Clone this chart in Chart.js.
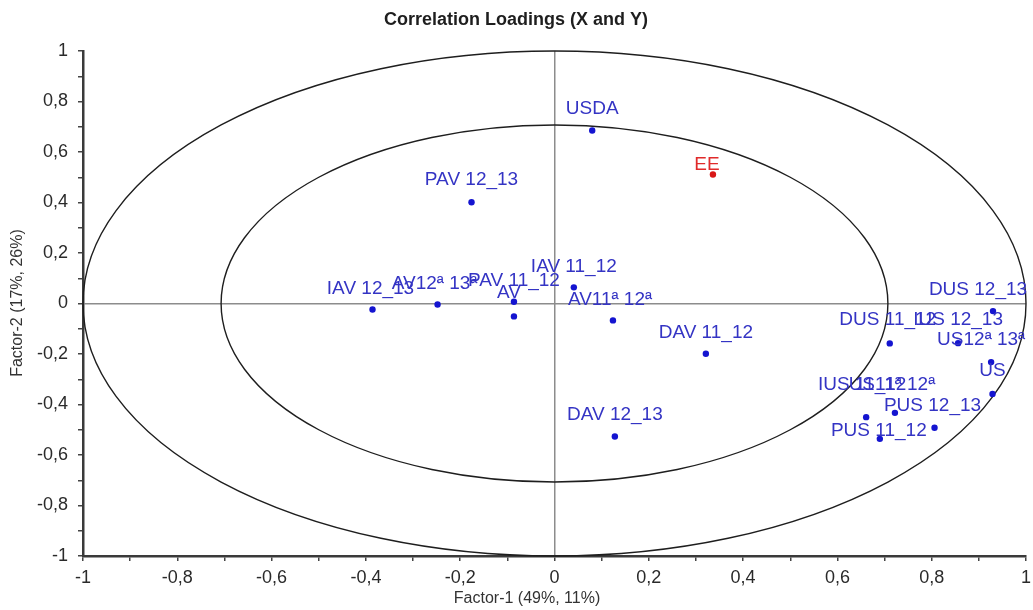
<!DOCTYPE html>
<html>
<head>
<meta charset="utf-8">
<script src="https://cdn.jsdelivr.net/npm/chart.js@4.4.1/dist/chart.umd.min.js"></script>
<style>
  html, body { margin: 0; padding: 0; background: #fff; }
</style>
</head>
<body>
<canvas id="loadings" width="1033" height="610"></canvas>
<script>
// X variables (blue) and Y variable (red), loadings on factor 1 / factor 2
var xNames = ['USDA', 'PAV 12_13', 'IAV 12_13', 'AV12\u00aa 13\u00aa', 'PAV 11_12', 'AV',
  'IAV 11_12', 'AV11\u00aa 12\u00aa', 'DAV 11_12', 'DAV 12_13', 'DUS 12_13', 'IUS 12_13',
  'US12\u00aa 13\u00aa', 'US', 'DUS 11_12', 'IUS 11_12', 'US11\u00aa 12\u00aa', 'PUS 12_13', 'PUS 11_12'];
var xFactor1 = [0.080, -0.176, -0.386, -0.248, -0.086, -0.086,
  0.041, 0.124, 0.321, 0.128, 0.930, 0.856,
  0.926, 0.929, 0.711, 0.661, 0.722, 0.806, 0.690];
var xFactor2 = [0.685, 0.401, -0.024, -0.004, 0.007, -0.051,
  0.064, -0.067, -0.199, -0.527, -0.030, -0.157,
  -0.232, -0.358, -0.158, -0.450, -0.433, -0.492, -0.536];

var yNames = ['EE'];
var yFactor1 = [0.336];
var yFactor2 = [0.511];

// correlation circles: 100% and 50% explained variance
var circleRadii = [1, 0.7071];

var tickValues = [-1, -0.8, -0.6, -0.4, -0.2, 0, 0.2, 0.4, 0.6, 0.8, 1];
var tickLabels = ['-1', '-0,8', '-0,6', '-0,4', '-0,2', '0', '0,2', '0,4', '0,6', '0,8', '1'];

// small nudges [dx, dy] so labels sit as in the original plot
var labelNudge = {
  'EE': [-6, 13], 'IAV 12_13': [-2, 1], 'AV12\u00aa 13\u00aa': [-3, 1], 'PAV 11_12': [0, 1],
  'AV': [-5, -1], 'IAV 11_12': [0, 2], 'AV11\u00aa 12\u00aa': [-3, 2], 'DAV 11_12': [0, 1],
  'DUS 12_13': [-15, 1], 'IUS 12_13': [0, -1], 'US12\u00aa 13\u00aa': [-10, 0], 'US': [0, -1],
  'DUS 11_12': [-2, -1], 'IUS 11_12': [-4, -10], 'US11\u00aa 12\u00aa': [-3, -6],
  'PUS 12_13': [-2, 0], 'PUS 11_12': [-1, 14]
};

var FONT = "'Liberation Sans', Arial, sans-serif";

function toPoints(xs, ys) {
  return xs.map(function(v, i) { return { x: v, y: ys[i] }; });
}

function tickText(v) {
  for (var i = 0; i < tickValues.length; i++) {
    if (Math.abs(tickValues[i] - v) < 1e-6) return tickLabels[i];
  }
  return '';
}

var circles = {
  id: 'circles',
  beforeDatasetsDraw: function(chart) {
    var sx = chart.scales.x, sy = chart.scales.y, ctx = chart.ctx;
    var cx = sx.getPixelForValue(0), cy = sy.getPixelForValue(0);
    ctx.save();
    ctx.strokeStyle = '#1e1e1e';
    ctx.lineWidth = 1.4;
    circleRadii.forEach(function(r) {
      var rx = sx.getPixelForValue(r) - cx;
      var ry = cy - sy.getPixelForValue(r);
      ctx.beginPath();
      ctx.ellipse(cx, cy, rx, ry, 0, 0, Math.PI * 2);
      ctx.stroke();
    });
    ctx.restore();
  }
};

var pointLabels = {
  id: 'pointLabels',
  afterDatasetsDraw: function(chart) {
    var ctx = chart.ctx;
    ctx.save();
    ctx.font = '19px ' + FONT;
    ctx.textAlign = 'center';
    ctx.textBaseline = 'alphabetic';
    chart.data.datasets.forEach(function(ds, di) {
      var meta = chart.getDatasetMeta(di);
      ctx.fillStyle = ds.labelColor;
      meta.data.forEach(function(el, i) {
        var name = ds.names[i];
        var n = labelNudge[name] || [0, 0];
        ctx.fillText(name, el.x + n[0], el.y - 17 + n[1]);
      });
    });
    ctx.restore();
  }
};

var titles = {
  id: 'titles',
  afterDraw: function(chart) {
    var ctx = chart.ctx;
    ctx.save();
    ctx.fillStyle = '#1e1e1e';
    ctx.textAlign = 'center';
    ctx.textBaseline = 'middle';
    ctx.font = 'bold 18px ' + FONT;
    ctx.fillText('Correlation Loadings (X and Y)', 516, 20);
    ctx.fillStyle = '#333';
    ctx.font = '16px ' + FONT;
    ctx.fillText('Factor-1 (49%, 11%)', 527, 599);
    ctx.translate(18, 303);
    ctx.rotate(-Math.PI / 2);
    ctx.fillText('Factor-2 (17%, 26%)', 0, 0);
    ctx.restore();
  }
};

function axis(pos) {
  return {
    type: 'linear',
    position: pos,
    min: -1,
    max: 1,
    afterFit: function(s) {
      if (pos === 'left') {
        s.width = 83;
      } else {
        s.height = 54;
        s.paddingLeft = 0;
        s.paddingRight = 7;
      }
    },
    ticks: {
      stepSize: 0.1,
      autoSkip: false,
      maxRotation: 0,
      minRotation: 0,
      padding: pos === 'left' ? 10 : 6,
      color: '#2a2a2a',
      font: { family: FONT, size: 18 },
      callback: function(v) { return tickText(v); }
    },
    grid: {
      color: function(c) {
        return c.tick && Math.abs(c.tick.value) < 1e-9 ? '#8c8c8c' : 'rgba(0,0,0,0)';
      },
      lineWidth: 1.5,
      tickColor: '#444',
      tickLength: 5,
      tickWidth: 1.5
    },
    border: { display: true, color: '#3a3a3a', width: 2.5 }
  };
}

new Chart(document.getElementById('loadings').getContext('2d'), {
  type: 'scatter',
  data: {
    datasets: [{
      label: 'X',
      names: xNames,
      labelColor: '#3434c4',
      data: toPoints(xFactor1, xFactor2),
      pointRadius: 3.2,
      pointBackgroundColor: '#1414d0',
      pointBorderWidth: 0
    }, {
      label: 'Y',
      names: yNames,
      labelColor: '#e02a2a',
      data: toPoints(yFactor1, yFactor2),
      pointRadius: 3.2,
      pointBackgroundColor: '#d81818',
      pointBorderWidth: 0
    }]
  },
  options: {
    responsive: false,
    animation: false,
    devicePixelRatio: 1,
    layout: { padding: { top: 51, right: 7, left: 0, bottom: 0 } },
    plugins: { legend: { display: false }, tooltip: { enabled: false } },
    scales: { x: axis('bottom'), y: axis('left') }
  },
  plugins: [circles, pointLabels, titles]
});
</script>
</body>
</html>
